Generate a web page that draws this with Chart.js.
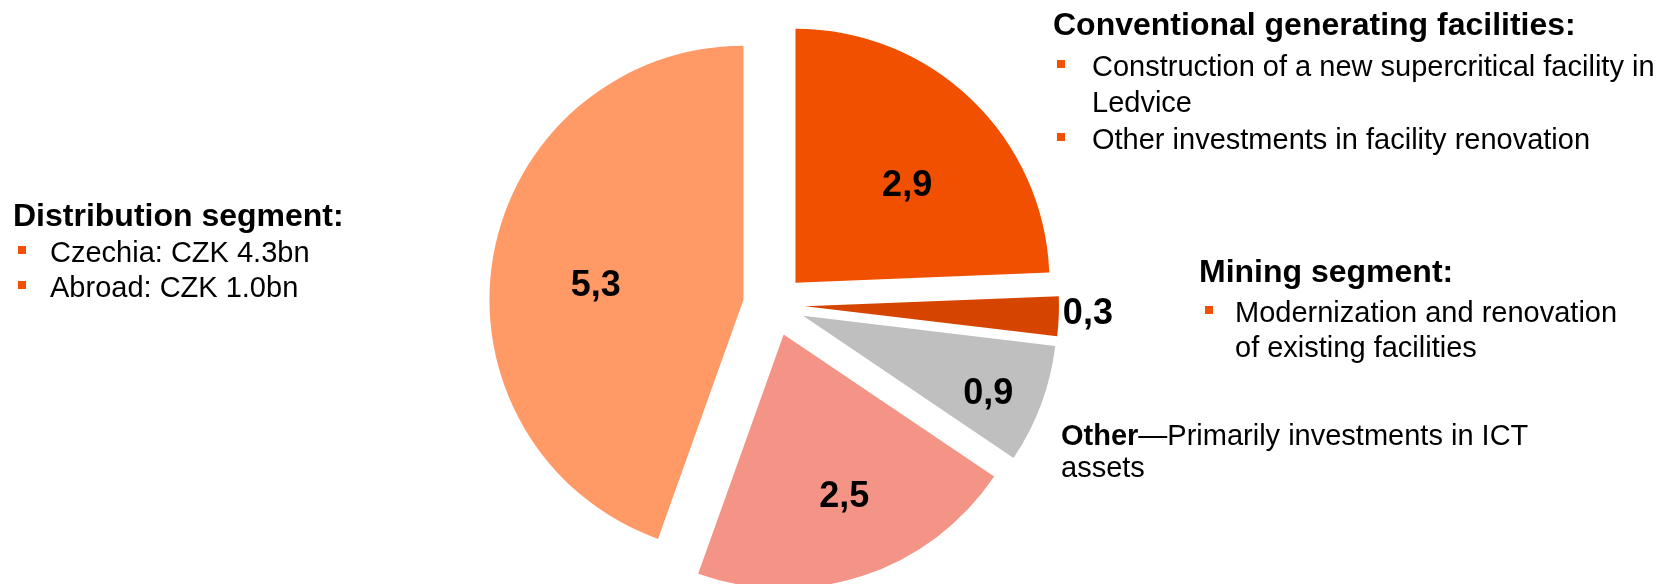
<!DOCTYPE html>
<html>
<head>
<meta charset="utf-8">
<title>Investments by segment</title>
<script src="https://cdn.jsdelivr.net/npm/chart.js@4.4.1/dist/chart.umd.min.js"></script>
<style>
  body { margin: 0; background: #fff; font-family: Arial, "Liberation Sans", sans-serif; color: #000; }
  #wrap { position: relative; width: 1662px; height: 584px; overflow: hidden; }
  #investChart { position: absolute; left: 0; top: 0; }
  .txt { position: absolute; white-space: nowrap; font-size: 29px; line-height: 36px; }
  .head { font-size: 32px; font-weight: bold; }
  .sq { position: absolute; width: 8px; height: 8px; background: #F05000; }
</style>
</head>
<body>
<div id="wrap">
  <canvas id="investChart" width="1662" height="584"></canvas>

  <div class="txt head" style="left:1053px; top:6px;">Conventional generating facilities:</div>
  <div class="sq" style="left:1057px; top:60px;"></div>
  <div class="txt" style="left:1092px; top:48px;">Construction of a new supercritical facility in</div>
  <div class="txt" style="left:1092px; top:84px;">Ledvice</div>
  <div class="sq" style="left:1057px; top:133px;"></div>
  <div class="txt" style="left:1092px; top:121px;">Other investments in facility renovation</div>

  <div class="txt head" style="left:13px; top:197px;">Distribution segment:</div>
  <div class="sq" style="left:18px; top:246px;"></div>
  <div class="txt" style="left:50px; top:234px;">Czechia: CZK 4.3bn</div>
  <div class="sq" style="left:18px; top:281px;"></div>
  <div class="txt" style="left:50px; top:269px;">Abroad: CZK 1.0bn</div>

  <div class="txt head" style="left:1199px; top:253px;">Mining segment:</div>
  <div class="sq" style="left:1205px; top:306px;"></div>
  <div class="txt" style="left:1235px; top:294px;">Modernization and renovation</div>
  <div class="txt" style="left:1235px; top:329px;">of existing facilities</div>

  <div class="txt" style="left:1061px; top:417px;"><b>Other</b>—Primarily investments in ICT</div>
  <div class="txt" style="left:1061px; top:449px;">assets</div>
</div>

<script>
// values in CZK bn, clockwise from 12 o'clock
const segments = ['Conventional generating facilities', 'Mining segment', 'Other', 'Remaining segments', 'Distribution segment'];
const capex = [2.9, 0.3, 0.9, 2.5, 5.3];
const sliceColors = ['#F05000', '#D64500', '#BFBFBF', '#F49486', '#FF9966'];

// look of the exploded pie
const pieRadius = 254;
const explode = 31;
const labelDist = [0.59, 1.114, 0.787, 0.673, 0.585];
const labelTurn = [4.3, -1.3, 1.7, -2.6, -3.5];

// push every slice out from the centre by the same distance
const explodePlugin = {
    id: 'explode',
    beforeDatasetDraw(chart, args) {
        const area = chart.chartArea;
        const cx = (area.left + area.right) / 2;
        const cy = (area.top + area.bottom) / 2;
        args.meta.data.forEach(arc => {
            const mid = (arc.startAngle + arc.endAngle) / 2;
            arc.x = cx + Math.cos(mid) * explode;
            arc.y = cy + Math.sin(mid) * explode;
        });
    }
};

// value labels (decimal comma)
const valueLabels = {
    id: 'valueLabels',
    afterDatasetsDraw(chart) {
        const ctx = chart.ctx;
        const meta = chart.getDatasetMeta(0);
        ctx.save();
        ctx.font = 'bold 36px Arial, "Liberation Sans", sans-serif';
        ctx.fillStyle = '#000';
        ctx.textAlign = 'center';
        ctx.textBaseline = 'alphabetic';
        meta.data.forEach((arc, i) => {
            const a = (arc.startAngle + arc.endAngle) / 2 + labelTurn[i] * Math.PI / 180;
            const r = arc.outerRadius * labelDist[i];
            const x = arc.x + Math.cos(a) * r;
            const y = arc.y + Math.sin(a) * r;
            ctx.fillText(capex[i].toFixed(1).replace('.', ','), x, y + 13);
        });
        ctx.restore();
    }
};

new Chart(document.getElementById('investChart'), {
    type: 'pie',
    data: {
        labels: segments,
        datasets: [{
            data: capex,
            backgroundColor: sliceColors,
            borderWidth: 0,
            radius: pieRadius
        }]
    },
    options: {
        responsive: false,
        animation: false,
        events: [],
        radius: pieRadius,
        layout: {
            padding: { left: 0, right: 114, top: 26, bottom: 0 }
        },
        plugins: {
            legend: { display: false },
            tooltip: { enabled: false }
        }
    },
    plugins: [explodePlugin, valueLabels]
});
</script>
</body>
</html>
